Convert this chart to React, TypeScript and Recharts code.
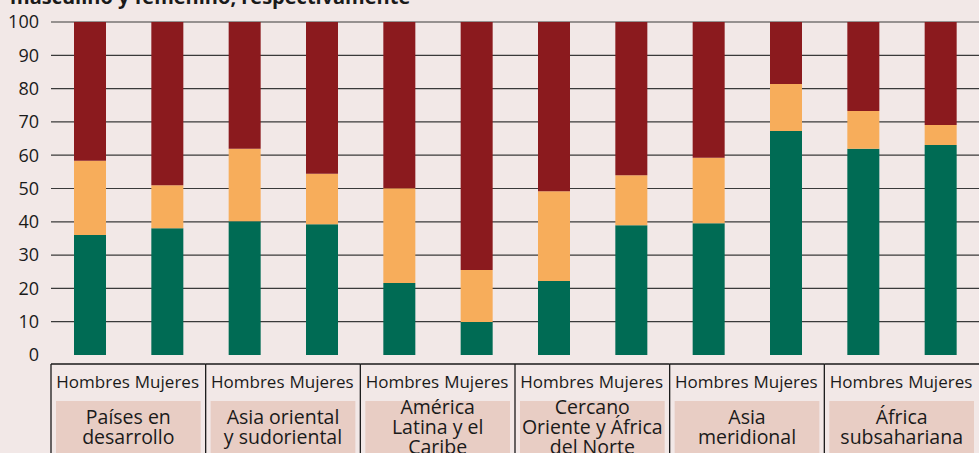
import React from 'react';
import { BarChart, Bar, XAxis, YAxis, CartesianGrid } from 'recharts';

const sexes = ['Hombres', 'Mujeres'];
const regions = [
  ['Países en', 'desarrollo'],
  ['Asia oriental', 'y sudoriental'],
  ['América', 'Latina y el', 'Caribe'],
  ['Cercano', 'Oriente y África', 'del Norte'],
  ['Asia', 'meridional'],
  ['África', 'subsahariana'],
];

// bottom, middle and top segments of each bar (percent)
const greenVals = [36, 38.1, 40.2, 39.3, 21.6, 9.9, 22.2, 39, 39.6, 67.3, 61.9, 63.1];
const orangeVals = [22.3, 12.9, 21.7, 15.1, 28.5, 15.6, 27, 15, 19.6, 14.1, 11.4, 6];
const redVals = [41.7, 49, 38.1, 45.6, 49.9, 74.5, 50.8, 46, 40.8, 18.6, 26.7, 30.9];

const yTicks = [0, 10, 20, 30, 40, 50, 60, 70, 80, 90, 100];
const gridValues = [10, 20, 30, 40, 50, 60, 70, 80, 90, 100];

const data = greenVals.map((g, i) => ({
  key: `${i}`,
  sex: sexes[i % 2],
  region: Math.floor(i / 2),
  green: g,
  orange: orangeVals[i],
  red: redVals[i],
}));

const W = 979;
const H = 453;
const LEFT = 51;
const TOP = 22;
const XAXIS_H = 98;
const BAND = (W - LEFT) / data.length;
const FONT = '"Open Sans", "Noto Sans", sans-serif';

const GroupTick = (props: any) => {
  const { x, y, index } = props;
  const row = data[index];
  const isFirst = index % 2 === 0;
  const left = x - BAND / 2;
  const lines = regions[row.region];
  const boxTop = y + 46;
  const mid = y + 73;
  return (
    <g>
      <text
        x={isFirst ? x + BAND / 2 + 1.5 : x - BAND / 2 + 6.5}
        y={y + 33}
        textAnchor={isFirst ? 'end' : 'start'}
        fontSize={17}
        fill="#1a1a1a"
        fontFamily={FONT}
      >
        {row.sex}
      </text>
      {isFirst && (
        <g>
          <line x1={left} x2={left + BAND * 2} y1={y + 9} y2={y + 9} stroke="#1a1a1a" strokeWidth={1.3} />
          <line x1={left} x2={left} y1={y + 9} y2={H} stroke="#1a1a1a" strokeWidth={1.3} />
          <rect x={left + 5} y={boxTop} width={BAND * 2 - 10} height={60} fill="#e8cdc4" />
          {lines.map((t: string, j: number) => (
            <text
              key={j}
              x={left + BAND}
              y={mid + (j - (lines.length - 1) / 2) * 20 + 6}
              textAnchor="middle"
              fontSize={19.5}
              fill="#1a1a1a"
              fontFamily={FONT}
            >
              {t}
            </text>
          ))}
        </g>
      )}
    </g>
  );
};

export default function App() {
  return (
    <div style={{ position: 'absolute', left: 0, top: 0, width: W, height: H, background: '#f2e8e7', overflow: 'hidden' }}>
      <svg width={W} height={H} style={{ position: 'absolute', left: 0, top: 0 }}>
        <text x={10} y={4} fontSize={20} fontWeight="bold" fill="#1a1a1a" fontFamily={FONT}>
          masculino y femenino, respectivamente
        </text>
      </svg>
      <div style={{ position: 'absolute', left: 0, top: 0 }}>
        <BarChart
          width={W}
          height={H}
          data={data}
          margin={{ top: TOP, right: 0, left: 0, bottom: 0 }}
          barSize={32}
        >
          <CartesianGrid vertical={false} horizontalValues={gridValues} stroke="#3a3a3a" strokeWidth={1.2} />
          <XAxis
            dataKey="key"
            interval={0}
            height={XAXIS_H}
            axisLine={false}
            tickLine={false}
            tickSize={0}
            tickMargin={0}
            tick={<GroupTick />}
          />
          <YAxis
            domain={[0, 100]}
            ticks={yTicks}
            width={LEFT}
            axisLine={false}
            tickLine={false}
            tickMargin={6}
            tick={{ fontSize: 18, fill: '#1a1a1a', fontFamily: FONT }}
          />
          <Bar dataKey="green" stackId="a" fill="#006b54" isAnimationActive={false} />
          <Bar dataKey="orange" stackId="a" fill="#f7ad5b" isAnimationActive={false} />
          <Bar dataKey="red" stackId="a" fill="#8b1a1e" isAnimationActive={false} />
        </BarChart>
      </div>
    </div>
  );
}
